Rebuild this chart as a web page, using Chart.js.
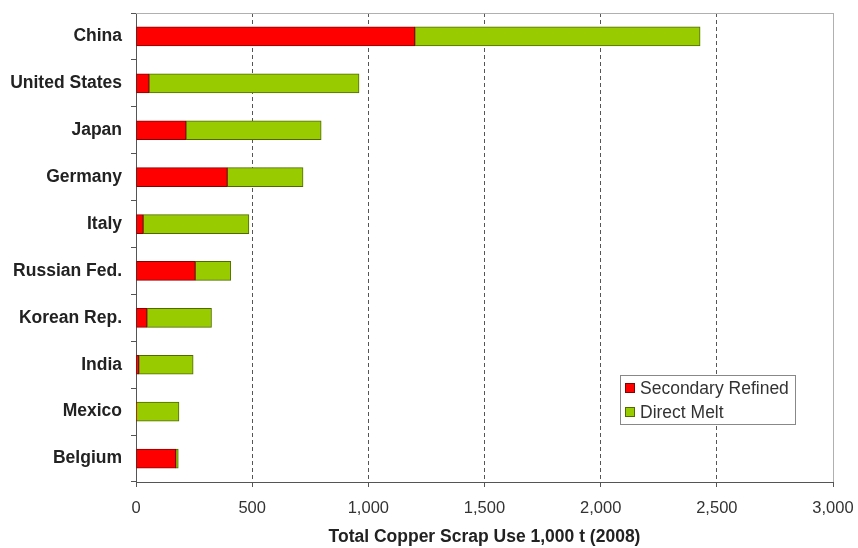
<!DOCTYPE html>
<html>
<head>
<meta charset="utf-8">
<script src="https://cdn.jsdelivr.net/npm/chart.js@4/dist/chart.umd.min.js"></script>
<style>
  body { margin: 0; background: #fff; }
  #wrap { width: 858px; height: 548px; }
</style>
</head>
<body>
<div id="wrap"><canvas id="scrapChart" width="858" height="548"></canvas></div>
<script>
const countries = ["China", "United States", "Japan", "Germany", "Italy",
  "Russian Fed.", "Korean Rep.", "India", "Mexico", "Belgium"];
const secondaryRefined = [1200, 56, 215, 393, 31, 255, 47, 12, 2, 171];
const directMelt = [1228, 904, 582, 326, 455, 153, 278, 234, 183, 11];
const xTicks = [0, 500, 1000, 1500, 2000, 2500, 3000];

const FONT = "'Liberation Sans', Arial, sans-serif";

// frame + legend box inside the plot, like the spreadsheet original
const frameAndLegend = {
  id: "frameAndLegend",
  beforeDatasetsDraw(chart) {
    const { ctx, chartArea: a } = chart;
    ctx.save();
    ctx.strokeStyle = "#b0b0b0";
    ctx.lineWidth = 1;
    ctx.beginPath();
    ctx.moveTo(a.left, a.top + 0.5);
    ctx.lineTo(a.right + 0.5, a.top + 0.5);
    ctx.lineTo(a.right + 0.5, a.bottom);
    ctx.stroke();
    ctx.restore();
  },
  afterDraw(chart) {
    const { ctx, chartArea: a } = chart;
    const x = a.right - 213, y = a.bottom - 107;
    ctx.save();
    ctx.fillStyle = "#fff";
    ctx.fillRect(x, y, 175, 49);
    ctx.strokeStyle = "#888";
    ctx.lineWidth = 1;
    ctx.strokeRect(x + 0.5, y + 0.5, 175, 49);
    ctx.font = "17.5px " + FONT;
    ctx.textBaseline = "middle";
    chart.data.datasets.forEach((ds, i) => {
      const cy = y + 13 + i * 24;
      ctx.fillStyle = ds.backgroundColor;
      ctx.fillRect(x + 5, cy - 5, 10, 10);
      ctx.strokeStyle = ds.borderColor;
      ctx.strokeRect(x + 5.5, cy - 4.5, 9, 9);
      ctx.fillStyle = "#333";
      ctx.fillText(ds.label, x + 20, cy + 1);
    });
    ctx.restore();
  }
};

new Chart(document.getElementById("scrapChart"), {
  type: "bar",
  data: {
    labels: countries,
    datasets: [
      {
        label: "Secondary Refined",
        data: secondaryRefined,
        backgroundColor: "#ff0000",
        borderColor: "#8a0000",
        borderWidth: 1,
        borderSkipped: false,
        barThickness: 19,
      },
      {
        label: "Direct Melt",
        data: directMelt,
        backgroundColor: "#99cc00",
        borderColor: "#4f6a00",
        borderWidth: 1,
        borderSkipped: false,
        barThickness: 19,
      },
    ],
  },
  options: {
    indexAxis: "y",
    responsive: false,
    animation: false,
    layout: { padding: { left: 0, top: 13, right: 25, bottom: 0 } },
    plugins: {
      legend: { display: false },
      tooltip: { enabled: false },
    },
    scales: {
      x: {
        stacked: true,
        min: 0,
        max: 3000,
        afterBuildTicks(scale) {
          scale.ticks = xTicks.map(v => ({ value: v }));
        },
        afterFit(scale) {
          scale.height = 66;
          scale.paddingLeft = 0;
          scale.paddingRight = 0;
        },
        ticks: {
          color: "#333",
          font: { family: FONT, size: 16.5 },
          padding: 12,
          callback: v => v.toLocaleString("en-US"),
        },
        grid: {
          color: c => c.tick && c.tick.value === 0 ? "rgba(0,0,0,0)" :
            (c.tick && c.tick.value === 3000 ? "#b0b0b0" : "#555"),
          lineWidth: 1,
          tickLength: 5,
          tickColor: "#555",
          tickBorderDash: [],
        },
        border: {
          color: "#555",
          width: 1,
          dash: c => c.tick && c.tick.value === 3000 ? [] : [4, 3],
        },
        title: {
          display: true,
          text: "Total Copper Scrap Use 1,000 t (2008)",
          color: "#222",
          font: { family: FONT, size: 17.5, weight: "bold" },
          padding: { top: 4, bottom: 0 },
        },
      },
      y: {
        stacked: true,
        afterFit(scale) {
          scale.width = 136;
          scale.paddingTop = 0;
          scale.paddingBottom = 0;
        },
        ticks: {
          color: "#222",
          font: { family: FONT, size: 17.5, weight: "bold" },
          padding: 9,
        },
        grid: {
          drawOnChartArea: false,
          offset: true,
          tickLength: 5,
          tickColor: "#555",
        },
        border: { color: "#555", width: 1 },
      },
    },
  },
  plugins: [frameAndLegend],
});
</script>
</body>
</html>
